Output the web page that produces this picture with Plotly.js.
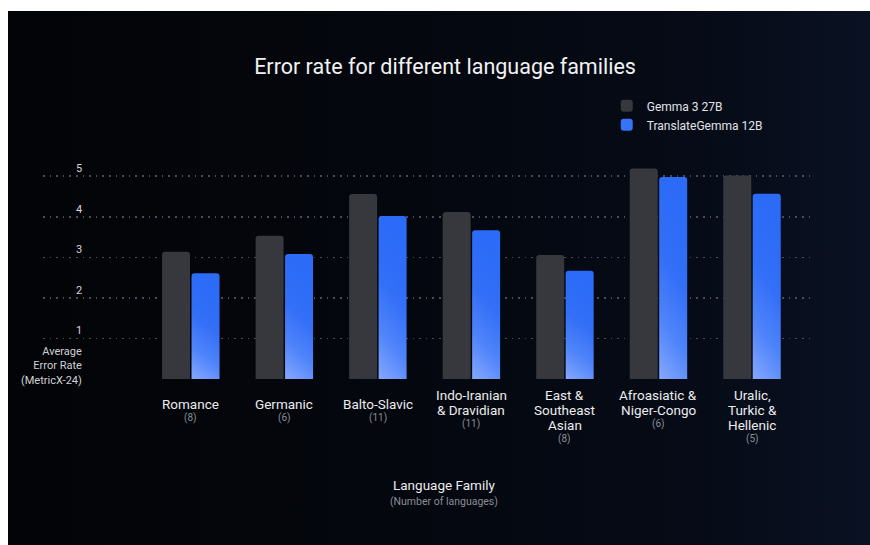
<!DOCTYPE html>
<html>
<head>
<meta charset="utf-8">
<script src="https://cdn.plot.ly/plotly-3.0.1.min.js"></script>
<style>
  html, body { margin: 0; padding: 0; background: #ffffff; width: 870px; height: 545px; overflow: hidden; }
  #chart { position: absolute; left: 8px; top: 11px; width: 862px; height: 534px;
    background: linear-gradient(to right, #030407 0%, #04070e 45%, #060b17 80%, #0a1122 100%); }
</style>
</head>
<body>
<div id="chart"></div>
<script>
// ---- data ----
const categories = ["Romance", "Germanic", "Balto-Slavic", "Indo-Iranian & Dravidian", "East & Southeast Asian", "Afroasiatic & Niger-Congo", "Uralic, Turkic & Hellenic"];
const labelLines = [["Romance"], ["Germanic"], ["Balto-Slavic"], ["Indo-Iranian", "& Dravidian"], ["East &", "Southeast", "Asian"], ["Afroasiatic &", "Niger-Congo"], ["Uralic,", "Turkic &", "Hellenic"]];
const languageCounts = [8, 6, 11, 11, 8, 6, 5];
const gemma3_27B = [3.14, 3.53, 4.56, 4.12, 3.06, 5.19, 5.02];
const translateGemma12B = [2.61, 3.08, 4.02, 3.67, 2.67, 4.98, 4.57];
const yTicks = [1, 2, 3, 4, 5];
const seriesNames = ["Gemma 3 27B", "TranslateGemma 12B"];

const FONT = "Roboto, 'Open Sans', sans-serif";
const BASE_PX = 368.5; // plot bottom in div px (for label offsets)

const traces = [
  { type: "bar", name: seriesNames[0], x: categories, y: gemma3_27B,
    marker: { color: "#36383e" }, hoverinfo: "skip" },
  { type: "bar", name: seriesNames[1], x: categories, y: translateGemma12B,
    marker: { color: "#3573f7" }, hoverinfo: "skip" }
];

const annotations = [];
labelLines.forEach((lines, i) => {
  const n = lines.length;
  const start = n === 1 ? 393 : 384.5;
  lines.forEach((ln, k) => {
    const c = start + k * 15;
    annotations.push({ x: categories[i], xref: "x", y: 0, yref: "paper", yanchor: "middle",
      yshift: -(c - BASE_PX), text: ln, showarrow: false,
      font: { family: FONT, size: 13.5, color: "#ececec" } });
  });
  const cc = start + (n - 1) * 15 + 14;
  annotations.push({ x: categories[i], xref: "x", y: 0, yref: "paper", yanchor: "middle",
    yshift: -(cc - BASE_PX), text: "(" + languageCounts[i] + ")", showarrow: false,
    font: { family: FONT, size: 10, color: "#8a8d93" } });
});
annotations.push({ x: 0.054, xref: "paper", xanchor: "right", y: 0, yref: "paper", yanchor: "middle",
  yshift: -(355.5 - BASE_PX), align: "right", showarrow: false,
  text: "Average<br>Error Rate<br>(MetricX-24)", font: { family: FONT, size: 11, color: "#cfd0d3" } });
annotations.push({ x: 0.523, xref: "paper", y: 0, yref: "paper", yanchor: "middle",
  yshift: -(474 - BASE_PX), text: "Language Family", showarrow: false,
  font: { family: FONT, size: 13.5, color: "#ececec" } });
annotations.push({ x: 0.523, xref: "paper", y: 0, yref: "paper", yanchor: "middle",
  yshift: -(491 - BASE_PX), text: "(Number of languages)", showarrow: false,
  font: { family: FONT, size: 10.5, color: "#8a8d93" } });

const layout = {
  width: 862, height: 534,
  paper_bgcolor: "rgba(0,0,0,0)", plot_bgcolor: "rgba(0,0,0,0)",
  margin: { l: 35, r: 60, t: 144.6, b: 165.5 },
  title: { text: "Error rate for different language families", x: 0.507, xanchor: "center",
    y: 0.897, yanchor: "middle", font: { family: FONT, size: 21.5, color: "#f2f2f2" } },
  barmode: "group", bargap: 0.37, bargroupgap: 0.05, barcornerradius: 3,
  xaxis: { type: "category", range: [-1.58, 6.62], showticklabels: false, showgrid: false,
    zeroline: false, showline: false, ticks: "" },
  yaxis: { range: [0, 5.5], tickvals: yTicks, ticktext: yTicks.map(String),
    showgrid: true, gridcolor: "#4a4d56", gridwidth: 1.6, griddash: "1.6px,5px",
    zeroline: false, showline: false, ticks: "",
    ticklabelposition: "inside", ticklabelstandoff: 30, ticklabelshift: -8,
    tickfont: { family: FONT, size: 11, color: "#d5d6d9" } },
  showlegend: true,
  legend: { x: 0.735, xanchor: "left", y: 1.29, yanchor: "top", bgcolor: "rgba(0,0,0,0)",
    font: { family: FONT, size: 12, color: "#e2e3e6" }, tracegroupgap: 0 },
  annotations: annotations
};

Plotly.newPlot("chart", traces, layout, { staticPlot: true, displayModeBar: false }).then(gd => {
  const svg = gd.querySelector(".main-svg");
  const ns = "http://www.w3.org/2000/svg";
  let defs = svg.querySelector("defs");
  if (!defs) { defs = document.createElementNS(ns, "defs"); svg.insertBefore(defs, svg.firstChild); }
  const grad = document.createElementNS(ns, "linearGradient");
  grad.setAttribute("id", "blueGrad");
  grad.setAttribute("x1", "0.2"); grad.setAttribute("y1", "0");
  grad.setAttribute("x2", "0"); grad.setAttribute("y2", "1");
  [["0", "#2b6bf7"], ["0.4", "#336ff7"], ["0.7", "#4f84fa"], ["1", "#86a8ff"]].forEach(([o, c]) => {
    const s = document.createElementNS(ns, "stop");
    s.setAttribute("offset", o); s.setAttribute("stop-color", c);
    grad.appendChild(s);
  });
  defs.appendChild(grad);
  const barTraces = gd.querySelectorAll(".barlayer .trace");
  if (barTraces[1]) {
    barTraces[1].querySelectorAll("path").forEach(p => { p.style.fill = "url(#blueGrad)"; });
  }
});
</script>
</body>
</html>
